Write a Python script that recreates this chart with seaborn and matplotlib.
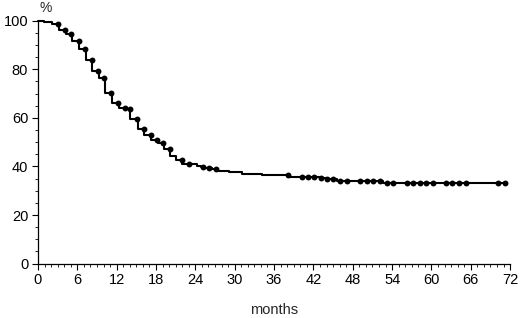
import numpy as np
import pandas as pd
import matplotlib
matplotlib.use('Agg')
import matplotlib.pyplot as plt
import seaborn as sns
from matplotlib.ticker import MultipleLocator

# Kaplan-Meier style step curve (months, survival %)
step_months = [0, 0.9, 2.1, 3.2, 4.2, 5.2, 6.3, 7.3, 8.3, 9.3, 10.2, 11.3, 12.3,
               13.4, 14.1, 15.2, 16.2, 17.3, 18.3, 19.2, 20.2, 21.0, 22.0, 24.2,
               24.8, 25.5, 26.5, 27.5, 29.2, 31.1, 34.1, 38.4, 43.0, 44.0, 45.6,
               52.6, 71.2]
step_surv = [100, 99.4, 98.5, 96.2, 94.5, 91.6, 88.2, 83.7, 79.3, 76.3, 70.1, 66.3,
             64.2, 63.6, 59.4, 55.3, 53.0, 50.9, 49.5, 47.2, 44.4, 42.7, 41.2, 40.2,
             39.7, 39.3, 38.8, 38.3, 37.9, 36.8, 36.4, 35.6, 35.2, 34.8, 34.2,
             33.2, 33.2]

# censored observations (dots)
censor_months = [3.1, 4.1, 5.1, 6.2, 7.2, 8.2, 9.2, 10.1, 11.2, 12.2, 13.2, 14.0,
                 15.1, 16.1, 17.2, 18.2, 19.1, 20.1, 21.9, 23.1, 25.1, 26.1, 27.2,
                 38.1, 40.2, 41.2, 42.1, 43.2, 44.1, 45.0, 46.1, 47.1, 49.1, 50.1,
                 51.1, 52.2, 53.2, 54.2, 56.2, 57.2, 58.2, 59.2, 60.2, 62.2, 63.2,
                 64.2, 65.3, 70.2, 71.2]

x_ticks = list(range(0, 73, 6))
y_ticks = [0, 20, 40, 60, 80, 100]

curve = pd.DataFrame({'months': step_months, 'surv': step_surv})
idx = np.searchsorted(step_months, censor_months, side='right') - 1
dots = pd.DataFrame({'months': censor_months,
                     'surv': np.array(step_surv)[idx]})

sns.set_style('ticks')
plt.rcParams['font.family'] = ['Liberation Sans', 'DejaVu Sans']

fig = plt.figure(figsize=(5.2, 3.18), dpi=100)
ax = fig.add_axes([0.073, 0.171, 0.908, 0.764])

sns.lineplot(data=curve, x='months', y='surv', drawstyle='steps-post',
             color='black', linewidth=1.5, ax=ax, clip_on=False)
sns.scatterplot(data=dots, x='months', y='surv', color='black', s=18,
                edgecolor='black', linewidth=0, ax=ax, clip_on=False, zorder=3)

ax.set_xlim(0, 72)
ax.set_ylim(0, 100)
ax.set_xticks(x_ticks)
ax.set_yticks(y_ticks)
ax.xaxis.set_minor_locator(MultipleLocator(1))
ax.yaxis.set_minor_locator(MultipleLocator(5))
ax.tick_params(which='major', direction='out', length=4.5, width=0.8,
               labelsize=10.5, colors='black')
ax.tick_params(axis='x', which='major', pad=2)
ax.tick_params(axis='y', which='major', pad=2.5)
ax.tick_params(which='minor', direction='out', length=2.2, width=0.6,
               colors='black')
sns.despine(ax=ax)
for s in ['left', 'bottom']:
    ax.spines[s].set_color('black')
    ax.spines[s].set_linewidth(0.9)

ax.set_xlabel('months', fontsize=10.5, labelpad=12)
ax.set_ylabel('')
fig.text(39 / 520, 0.996, '%', fontsize=10, ha='left', va='top')

fig.savefig('out.png', dpi=100)
